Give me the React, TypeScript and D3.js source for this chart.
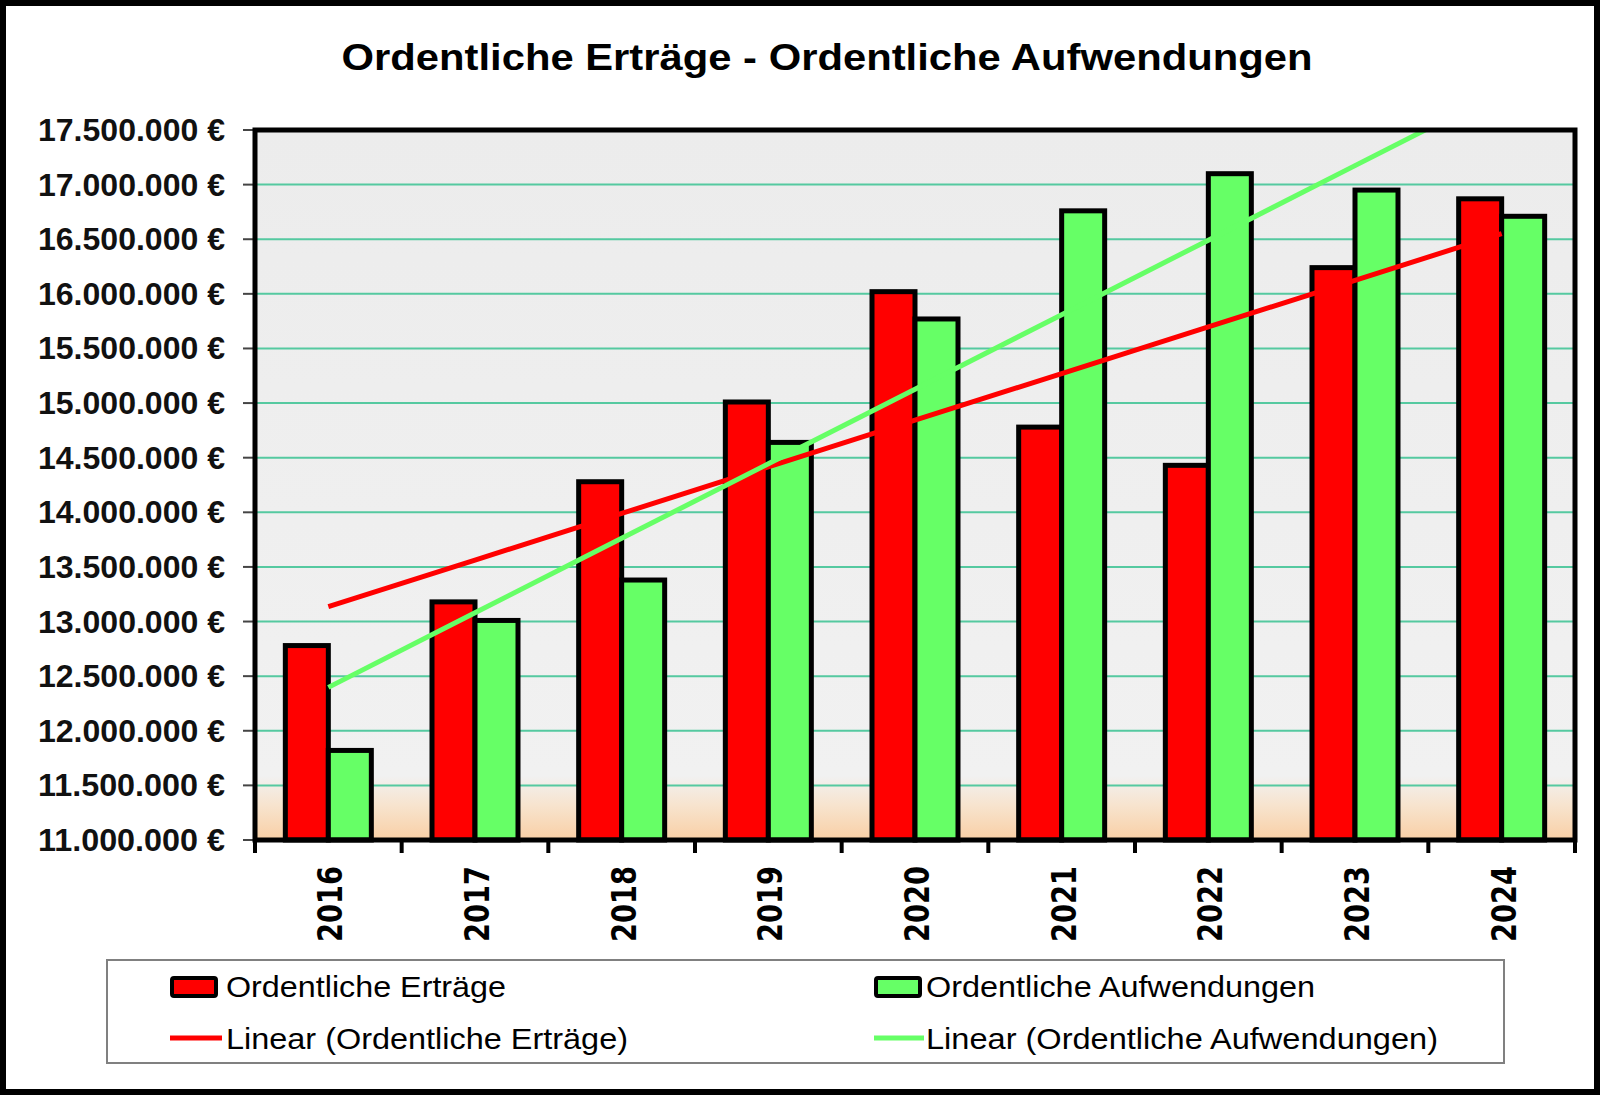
import React from 'react';
import * as d3 from 'd3';

const years = ['2016', '2017', '2018', '2019', '2020', '2021', '2022', '2023', '2024'];
const ertraege = [12780000, 13180000, 14280000, 15010000, 16020000, 14780000, 14430000, 16240000, 16870000];
const aufwendungen = [11820000, 13010000, 13380000, 14640000, 15770000, 16760000, 17100000, 16950000, 16710000];
const yTicks = [11000000, 11500000, 12000000, 12500000, 13000000, 13500000, 14000000, 14500000, 15000000, 15500000, 16000000, 16500000, 17000000, 17500000];
const seriesNames = ['Ordentliche Erträge', 'Ordentliche Aufwendungen'];
const trendNames = ['Linear (Ordentliche Erträge)', 'Linear (Ordentliche Aufwendungen)'];
const title = 'Ordentliche Erträge - Ordentliche Aufwendungen';

const RED = '#ff0000';
const GREEN = '#66ff66';

function linFit(vals: number[]) {
  const n = vals.length;
  const xs = vals.map((_, i) => i);
  const mx = d3.mean(xs) as number;
  const my = d3.mean(vals) as number;
  let sxy = 0, sxx = 0;
  for (let i = 0; i < n; i++) { sxy += (xs[i] - mx) * (vals[i] - my); sxx += (xs[i] - mx) ** 2; }
  const b = sxy / sxx;
  const a = my - b * mx;
  return xs.map((x) => a + b * x);
}

export default function App() {
  const W = 1601, H = 1097;
  const L = 255, R = 1575, T = 130, B = 840;
  const x = d3.scaleBand<string>().domain(years).range([L, R]).paddingInner(0).paddingOuter(0);
  const y = d3.scaleLinear().domain([11000000, 17500000]).range([B, T]);
  const loc = d3.formatLocale({ decimal: ',', thousands: '.', grouping: [3], currency: ['', ' €'] });
  const fmt = loc.format('$,.0f');
  const bw = 43;
  const cx = (yr: string) => (x(yr) as number) + x.bandwidth() / 2;
  const lineGen = d3.line<number>().x((_, i) => cx(years[i])).y((v) => y(v));
  const trendE = linFit(ertraege);
  const trendA = linFit(aufwendungen);

  return (
    <svg width={W} height={H} style={{ position: 'absolute', left: 0, top: 0 }} fontFamily="'Liberation Sans', Arial, sans-serif">
      <defs>
        <linearGradient id="bg" x1="0" y1="0" x2="0" y2="1">
          <stop offset="0" stopColor="#ececec" />
          <stop offset="0.91" stopColor="#f1f1f1" />
          <stop offset="0.95" stopColor="#f7e4cf" />
          <stop offset="1" stopColor="#f9cfa5" />
        </linearGradient>
        <clipPath id="plotclip">
          <rect x={L} y={T} width={R - L} height={B - T} />
        </clipPath>
      </defs>
      <rect x={0} y={0} width={W} height={H} fill="#ffffff" />
      <text x={827} y={70} textAnchor="middle" fontSize={36} fontWeight="bold" fill="#000"
        textLength={971} lengthAdjust="spacingAndGlyphs">{title}</text>

      <rect x={L} y={T} width={R - L} height={B - T} fill="url(#bg)" />
      {yTicks.slice(1, -1).map((t) => (
        <line key={t} x1={L} x2={R} y1={y(t)} y2={y(t)} stroke="#55c9a0" strokeWidth={2} />
      ))}
      {yTicks.map((t) => (
        <g key={'yt' + t}>
          <line x1={L - 12} x2={L} y1={y(t)} y2={y(t)} stroke="#444" strokeWidth={2} />
          <text x={225} y={y(t) + 11} textAnchor="end" fontSize={31} fontWeight="bold" fill="#111"
            textLength={187} lengthAdjust="spacingAndGlyphs">{fmt(t)}</text>
        </g>
      ))}

      {years.map((yr, i) => (
        <g key={yr}>
          <rect x={cx(yr) - bw} y={y(ertraege[i])} width={bw} height={B - y(ertraege[i])} fill={RED} stroke="#000" strokeWidth={5} />
          <rect x={cx(yr)} y={y(aufwendungen[i])} width={bw} height={B - y(aufwendungen[i])} fill={GREEN} stroke="#000" strokeWidth={5} />
        </g>
      ))}

      <g clipPath="url(#plotclip)">
        <path d={lineGen(trendE) as string} fill="none" stroke={RED} strokeWidth={5} />
        <path d={lineGen(trendA) as string} fill="none" stroke={GREEN} strokeWidth={5} />
      </g>

      <rect x={L} y={T} width={R - L} height={B - T} fill="none" stroke="#000" strokeWidth={5} />
      {[...years.map((yr) => x(yr) as number), R].map((tx, i) => (
        <line key={'xt' + i} x1={tx} x2={tx} y1={B} y2={B + 13} stroke="#000" strokeWidth={4} />
      ))}
      {years.map((yr) => (
        <text key={'xl' + yr} transform={`translate(${cx(yr) + 14},866) rotate(-90)`} textAnchor="end"
          fontFamily="'DejaVu Sans', Verdana, sans-serif" fontWeight="bold" fontSize={33}
          textLength={76} lengthAdjust="spacingAndGlyphs" fill="#000">{yr}</text>
      ))}

      <rect x={107} y={960} width={1397} height={103} fill="#fff" stroke="#808080" strokeWidth={2} />
      <rect x={172} y={978} width={44} height={18} fill={RED} stroke="#000" strokeWidth={4} rx={2} />
      <text x={226} y={997} fontSize={30} fill="#000" textLength={280} lengthAdjust="spacingAndGlyphs">{seriesNames[0]}</text>
      <rect x={876} y={978} width={44} height={18} fill={GREEN} stroke="#000" strokeWidth={4} rx={2} />
      <text x={926} y={997} fontSize={30} fill="#000" textLength={389} lengthAdjust="spacingAndGlyphs">{seriesNames[1]}</text>
      <line x1={170} x2={222} y1={1038} y2={1038} stroke={RED} strokeWidth={5} />
      <text x={226} y={1049} fontSize={30} fill="#000" textLength={402} lengthAdjust="spacingAndGlyphs">{trendNames[0]}</text>
      <line x1={874} x2={924} y1={1038} y2={1038} stroke={GREEN} strokeWidth={5} />
      <text x={926} y={1049} fontSize={30} fill="#000" textLength={512} lengthAdjust="spacingAndGlyphs">{trendNames[1]}</text>

      <rect x={3} y={3} width={1594} height={1089} fill="none" stroke="#000" strokeWidth={6} />
    </svg>
  );
}
